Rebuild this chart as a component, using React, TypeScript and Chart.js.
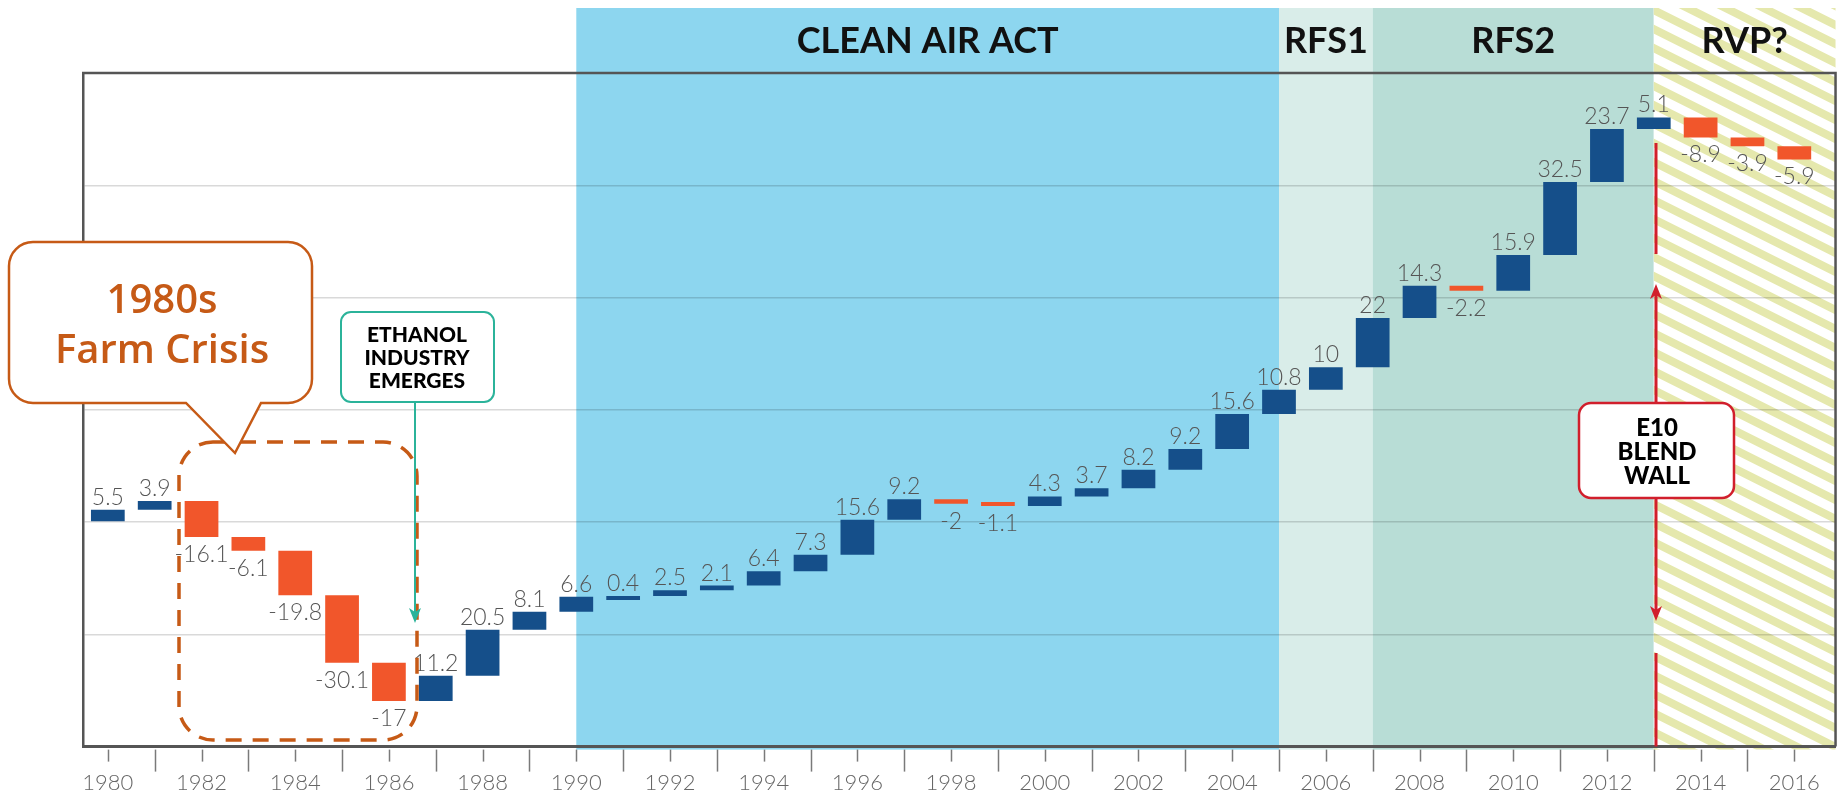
import React, { useEffect, useRef } from 'react';
import { Chart, registerables } from 'chart.js';

Chart.register(...registerables);

// ---------- data ----------
const years = [
  1980, 1981, 1982, 1983, 1984, 1985, 1986, 1987, 1988, 1989,
  1990, 1991, 1992, 1993, 1994, 1995, 1996, 1997, 1998, 1999,
  2000, 2001, 2002, 2003, 2004, 2005, 2006, 2007, 2008, 2009,
  2010, 2011, 2012, 2013, 2014, 2015, 2016,
];
const changes = [
  5.5, 3.9, -16.1, -6.1, -19.8, -30.1, -17, 11.2, 20.5, 8.1,
  6.6, 0.4, 2.5, 2.1, 6.4, 7.3, 15.6, 9.2, -2, -1.1,
  4.3, 3.7, 8.2, 9.2, 15.6, 10.8, 10, 22, 14.3, -2.2,
  15.9, 32.5, 23.7, 5.1, -8.9, -3.9, -5.9,
];
const tickLabels = [
  '1980', '', '1982', '', '1984', '', '1986', '', '1988', '',
  '1990', '', '1992', '', '1994', '', '1996', '', '1998', '',
  '2000', '', '2002', '', '2004', '', '2006', '', '2008', '',
  '2010', '', '2012', '', '2014', '', '2016',
];
const periodLabels = ['CLEAN AIR ACT', 'RFS1', 'RFS2', 'RVP?'];
const periodStarts = [1990, 2005, 2007, 2013];
const periodEnds: (number | null)[] = [2005, 2007, 2013, null];
const periodFills = ['#8dd6ef', '#d9ede9', '#b8ddd6', 'hatch'];
const yMin = -100;
const yMax = 200;
const yStep = 50;
const e10Year = 2013;

// waterfall table built from the changes
const starts: number[] = [];
const ends: number[] = [];
let running = 0;
changes.forEach((c) => {
  starts.push(Math.round(running * 10) / 10);
  running += c;
  ends.push(Math.round(running * 10) / 10);
});

const BLUE = '#154f8a';
const ORANGE = '#f1562b';
const FARM = '#c65a16';
const TEAL = '#2bb39a';
const RED = '#d11f2c';

function roundRectPath(ctx: CanvasRenderingContext2D, x: number, y: number, w: number, h: number, r: number) {
  ctx.beginPath();
  ctx.moveTo(x + r, y);
  ctx.lineTo(x + w - r, y);
  ctx.arcTo(x + w, y, x + w, y + r, r);
  ctx.lineTo(x + w, y + h - r);
  ctx.arcTo(x + w, y + h, x + w - r, y + h, r);
  ctx.lineTo(x + r, y + h);
  ctx.arcTo(x, y + h, x, y + h - r, r);
  ctx.lineTo(x, y + r);
  ctx.arcTo(x, y, x + r, y, r);
  ctx.closePath();
}

function arrowHead(ctx: CanvasRenderingContext2D, x: number, tipY: number, dir: number, color: string, w = 12, h = 14) {
  ctx.beginPath();
  ctx.moveTo(x, tipY);
  ctx.lineTo(x - w / 2, tipY - dir * h);
  ctx.lineTo(x, tipY - dir * (h - 4));
  ctx.lineTo(x + w / 2, tipY - dir * h);
  ctx.closePath();
  ctx.fillStyle = color;
  ctx.fill();
}

const bandsPlugin = {
  id: 'bands',
  beforeDraw(chart: any) {
    const { ctx, chartArea } = chart;
    const xs = chart.scales.x;
    ctx.save();
    ctx.fillStyle = '#ffffff';
    ctx.fillRect(0, 0, chart.width, chart.height);
    const top = 8;
    const bottom = chartArea.bottom + 3;
    periodLabels.forEach((label, i) => {
      const x0 = xs.getPixelForValue(periodStarts[i]);
      const x1 = periodEnds[i] == null ? chartArea.right : xs.getPixelForValue(periodEnds[i] as number);
      if (periodFills[i] === 'hatch') {
        ctx.save();
        ctx.fillStyle = '#ffffff';
        ctx.fillRect(x0, top, x1 - x0, bottom - top);
        ctx.beginPath();
        ctx.rect(x0, top, x1 - x0, bottom - top);
        ctx.clip();
        ctx.strokeStyle = '#e5e8ad';
        ctx.lineWidth = 8;
        const slope = 0.5;
        const w = x1 - x0;
        const period = 19;
        for (let c = -w * slope - 40; c < bottom - top + 40; c += period) {
          ctx.beginPath();
          ctx.moveTo(x0 - 10, top + c - 10 * slope);
          ctx.lineTo(x1 + 10, top + c + (w + 10) * slope);
          ctx.stroke();
        }
        ctx.restore();
      } else {
        ctx.fillStyle = periodFills[i];
        ctx.fillRect(x0, top, x1 - x0, bottom - top);
      }
      ctx.fillStyle = '#111111';
      ctx.font = 'bold 36px Lato';
      ctx.textAlign = 'center';
      ctx.textBaseline = 'alphabetic';
      ctx.fillText(label, (x0 + x1) / 2, 53);
    });
    ctx.restore();
  },
};

const labelsPlugin = {
  id: 'valueLabels',
  afterDatasetsDraw(chart: any) {
    const { ctx } = chart;
    const meta = chart.getDatasetMeta(0);
    ctx.save();
    ctx.font = '300 23px Lato';
    ctx.fillStyle = '#555555';
    ctx.textAlign = 'center';
    ctx.textBaseline = 'alphabetic';
    meta.data.forEach((bar: any, i: number) => {
      const topY = Math.min(bar.y, bar.base);
      const botY = Math.max(bar.y, bar.base);
      const txt = String(changes[i]);
      if (changes[i] >= 0) ctx.fillText(txt, bar.x, topY - 5);
      else ctx.fillText(txt, bar.x, botY + 25);
    });
    ctx.restore();
  },
};

const annotationPlugin = {
  id: 'annotations',
  afterDraw(chart: any) {
    const { ctx, chartArea } = chart;
    const xs = chart.scales.x;
    ctx.save();

    // top and right frame
    ctx.strokeStyle = '#555555';
    ctx.lineWidth = 2.5;
    ctx.beginPath();
    ctx.moveTo(chartArea.left - 1, chartArea.top);
    ctx.lineTo(chartArea.right, chartArea.top);
    ctx.lineTo(chartArea.right, chartArea.bottom);
    ctx.stroke();

    // x tick marks: short under labelled years, long otherwise
    ctx.strokeStyle = '#7a7a7a';
    ctx.lineWidth = 1.5;
    years.forEach((yr, i) => {
      const x = Math.round(xs.getPixelForValue(yr)) + 0.5;
      const len = tickLabels[i] ? 15 : 25;
      ctx.beginPath();
      ctx.moveTo(x, chartArea.bottom + 3);
      ctx.lineTo(x, chartArea.bottom + len);
      ctx.stroke();
    });

    // dashed farm-crisis frame
    ctx.save();
    ctx.strokeStyle = FARM;
    ctx.lineWidth = 3.5;
    ctx.setLineDash([16, 11]);
    roundRectPath(ctx, 179, 442, 238, 298, 34);
    ctx.stroke();
    ctx.restore();

    // farm crisis callout
    ctx.save();
    const bx = 9, by = 242, bw = 303, bh = 161, r = 24;
    ctx.beginPath();
    ctx.moveTo(bx + r, by);
    ctx.lineTo(bx + bw - r, by);
    ctx.arcTo(bx + bw, by, bx + bw, by + r, r);
    ctx.lineTo(bx + bw, by + bh - r);
    ctx.arcTo(bx + bw, by + bh, bx + bw - r, by + bh, r);
    ctx.lineTo(261, by + bh);
    ctx.lineTo(235, 453);
    ctx.lineTo(186, by + bh);
    ctx.lineTo(bx + r, by + bh);
    ctx.arcTo(bx, by + bh, bx, by + bh - r, r);
    ctx.lineTo(bx, by + r);
    ctx.arcTo(bx, by, bx + r, by, r);
    ctx.closePath();
    ctx.fillStyle = '#ffffff';
    ctx.fill();
    ctx.strokeStyle = FARM;
    ctx.lineWidth = 2.5;
    ctx.stroke();
    ctx.fillStyle = FARM;
    ctx.font = '600 40px "Open Sans"';
    ctx.textAlign = 'center';
    ctx.textBaseline = 'alphabetic';
    ctx.fillText('1980s', 162, 313);
    ctx.fillText('Farm Crisis', 162, 363);
    ctx.restore();

    // ethanol industry emerges
    ctx.save();
    const ex = 417;
    ctx.strokeStyle = TEAL;
    ctx.lineWidth = 2;
    ctx.beginPath();
    ctx.moveTo(ex - 2, 402);
    ctx.lineTo(ex - 2, 612);
    ctx.stroke();
    arrowHead(ctx, ex - 2, 623, 1, TEAL, 12, 15);
    roundRectPath(ctx, 341, 312, 153, 90, 10);
    ctx.fillStyle = '#ffffff';
    ctx.fill();
    ctx.strokeStyle = TEAL;
    ctx.lineWidth = 2;
    ctx.stroke();
    ctx.fillStyle = '#000000';
    ctx.font = '900 21px Lato';
    ctx.textAlign = 'center';
    ctx.fillText('ETHANOL', ex, 342);
    ctx.fillText('INDUSTRY', ex, 365);
    ctx.fillText('EMERGES', ex, 388);
    ctx.restore();

    // E10 blend wall
    ctx.save();
    const lx = Math.round(xs.getPixelForValue(e10Year)) + 2;
    ctx.strokeStyle = RED;
    ctx.lineWidth = 3;
    ctx.beginPath();
    ctx.moveTo(lx, 143);
    ctx.lineTo(lx, 254);
    ctx.moveTo(lx, 403);
    ctx.lineTo(lx, 295);
    ctx.moveTo(lx, 498);
    ctx.lineTo(lx, 610);
    ctx.moveTo(lx, 653);
    ctx.lineTo(lx, chartArea.bottom);
    ctx.stroke();
    arrowHead(ctx, lx, 284, -1, RED, 12, 15);
    arrowHead(ctx, lx, 621, 1, RED, 12, 15);
    roundRectPath(ctx, lx - 77, 403, 155, 95, 12);
    ctx.fillStyle = '#ffffff';
    ctx.fill();
    ctx.strokeStyle = RED;
    ctx.lineWidth = 2.5;
    ctx.stroke();
    ctx.fillStyle = '#000000';
    ctx.font = '900 24px Lato';
    ctx.textAlign = 'center';
    ctx.fillText('E10', lx + 1, 436);
    ctx.fillText('BLEND', lx + 1, 460);
    ctx.fillText('WALL', lx + 1, 484);
    ctx.restore();

    ctx.restore();
  },
};

export default function App() {
  const ref = useRef<HTMLCanvasElement>(null);
  useEffect(() => {
    const canvas = ref.current;
    if (!canvas) return;
    const chart = new Chart(canvas, {
      type: 'bar',
      data: {
        datasets: [
          {
            data: years.map((yr, i) => ({ x: yr, y: [starts[i], ends[i]] })) as any,
            backgroundColor: changes.map((c) => (c >= 0 ? BLUE : ORANGE)),
            borderWidth: 0,
            barPercentage: 0.72,
            categoryPercentage: 1,
            minBarLength: 4,
          },
        ],
      },
      options: {
        responsive: false,
        devicePixelRatio: 1,
        animation: false,
        events: [],
        layout: { padding: { left: 83, right: 7, top: 73, bottom: -22 } },
        plugins: { legend: { display: false }, tooltip: { enabled: false } },
        scales: {
          x: {
            type: 'linear',
            min: 1979.47,
            max: 2016.88,
            offset: false,
            grid: { display: false, drawTicks: false },
            border: { display: true, color: '#555555', width: 3 },
            afterBuildTicks: (scale: any) => {
              scale.ticks = years.map((v) => ({ value: v }));
            },
            ticks: {
              autoSkip: false,
              maxRotation: 0,
              minRotation: 0,
              padding: 23,
              color: '#666666',
              font: { family: 'Lato', size: 22, weight: '300' },
              callback: (_v: any, i: number) => tickLabels[i] ?? '',
            },
          },
          y: {
            min: yMin,
            max: yMax,
            ticks: { display: false, stepSize: yStep },
            grid: { color: 'rgba(0,0,0,0.15)', lineWidth: 1.5, drawTicks: false },
            border: { display: true, color: '#555555', width: 2.5 },
          },
        },
      } as any,
      plugins: [bandsPlugin, labelsPlugin, annotationPlugin],
    });
    return () => chart.destroy();
  }, []);
  return (
    <div style={{ position: 'absolute', left: 0, top: 0, width: 1843, height: 797, background: '#fff' }}>
      <canvas ref={ref} width={1843} height={797} style={{ display: 'block', width: 1843, height: 797 }} />
    </div>
  );
}
